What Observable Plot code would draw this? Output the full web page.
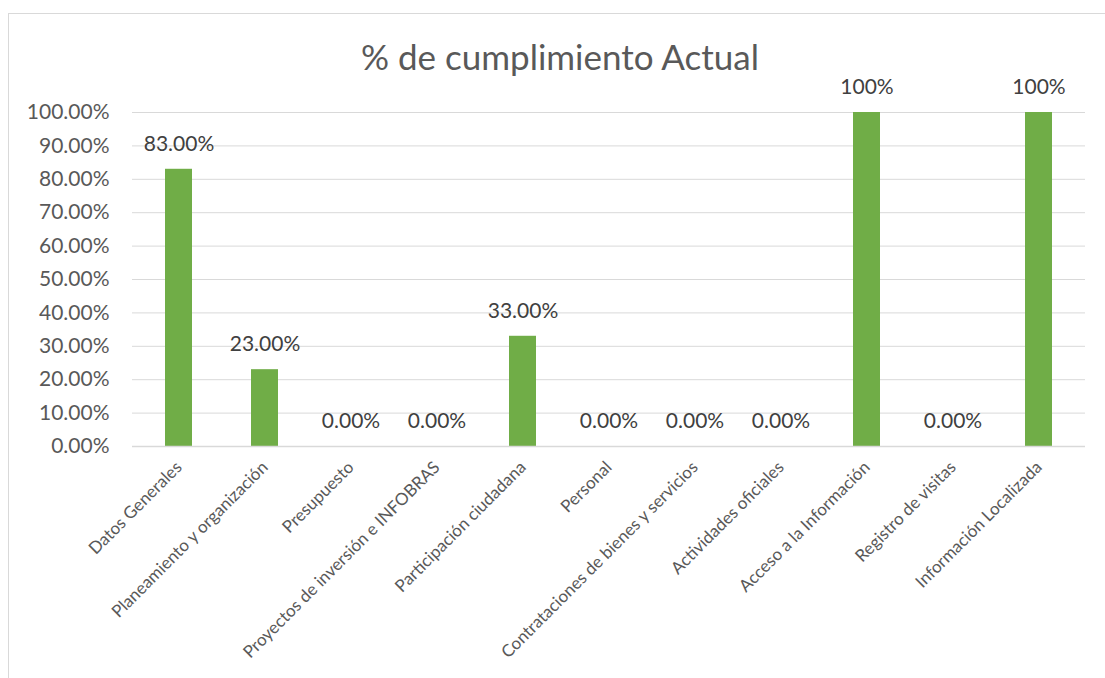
<!DOCTYPE html>
<html>
<head>
<meta charset="utf-8">
<script src="https://cdn.jsdelivr.net/npm/d3@7"></script>
<script src="https://cdn.jsdelivr.net/npm/@observablehq/plot@0.6"></script>
<style>
  html, body { margin: 0; padding: 0; background: #fff; overflow: hidden; }
  #wrap { position: relative; width: 1105px; height: 678px; overflow: hidden; }
  #frame { position: absolute; left: 8px; top: 13px; width: 1110px; height: 680px; border: 1px solid #d9d9d9; box-sizing: border-box; }
  #title { position: absolute; left: 0; width: 1120px; top: 36px; text-align: center; font-family: Lato, "Open Sans", sans-serif; font-size: 35px; color: #595959; line-height: 40px; }
  #chart { position: absolute; left: 0; top: 0; }
</style>
</head>
<body>
<div id="wrap">
  <div id="frame"></div>
  <div id="chart"></div>
  <div id="title">% de cumplimiento Actual</div>
</div>
<script>
const categories = [
  "Datos Generales",
  "Planeamiento y organización",
  "Presupuesto",
  "Proyectos de inversión e INFOBRAS",
  "Participación ciudadana",
  "Personal",
  "Contrataciones de bienes y servicios",
  "Actividades oficiales",
  "Acceso a la Información",
  "Registro de visitas",
  "Información Localizada"
];
const values = [0.83, 0.23, 0, 0, 0.33, 0, 0, 0, 1.0, 0, 1.0];
const valueLabels = ["83.00%", "23.00%", "0.00%", "0.00%", "33.00%", "0.00%", "0.00%", "0.00%", "100%", "0.00%", "100%"];
const yTicks = [0, 0.1, 0.2, 0.3, 0.4, 0.5, 0.6, 0.7, 0.8, 0.9, 1.0];

const data = categories.map((c, i) => ({ cat: c, value: values[i], label: valueLabels[i] }));

const chart = Plot.plot({
  width: 1105,
  height: 678,
  marginLeft: 132,
  marginRight: 20,
  marginTop: 112,
  marginBottom: 232,
  style: { fontFamily: "Lato, 'Open Sans', sans-serif", background: "transparent" },
  x: { domain: categories, paddingInner: 0.688, paddingOuter: 0.344, label: null },
  y: { domain: [0, 1], label: null },
  marks: [
    Plot.gridY(yTicks, { stroke: "#d9d9d9", strokeOpacity: 1, strokeWidth: 1 }),
    Plot.axisY(yTicks, {
      tickSize: 0, tickPadding: 23, fontSize: 21, fill: "#595959",
      tickFormat: d => (d * 100).toFixed(2) + "%", label: null
    }),
    Plot.axisX({
      tickSize: 0, tickRotate: -45, tickPadding: 18, fontSize: 17, fill: "#595959", label: null
    }),
    Plot.barY(data, { x: "cat", y: "value", fill: "#70ad47" }),
    Plot.ruleY([0], { stroke: "#d9d9d9", strokeWidth: 1.5 }),
    Plot.text(data, { x: "cat", y: "value", text: "label", dy: -25, fontSize: 21, fill: "#404040" })
  ]
});
document.getElementById("chart").appendChild(chart);
</script>
</body>
</html>
